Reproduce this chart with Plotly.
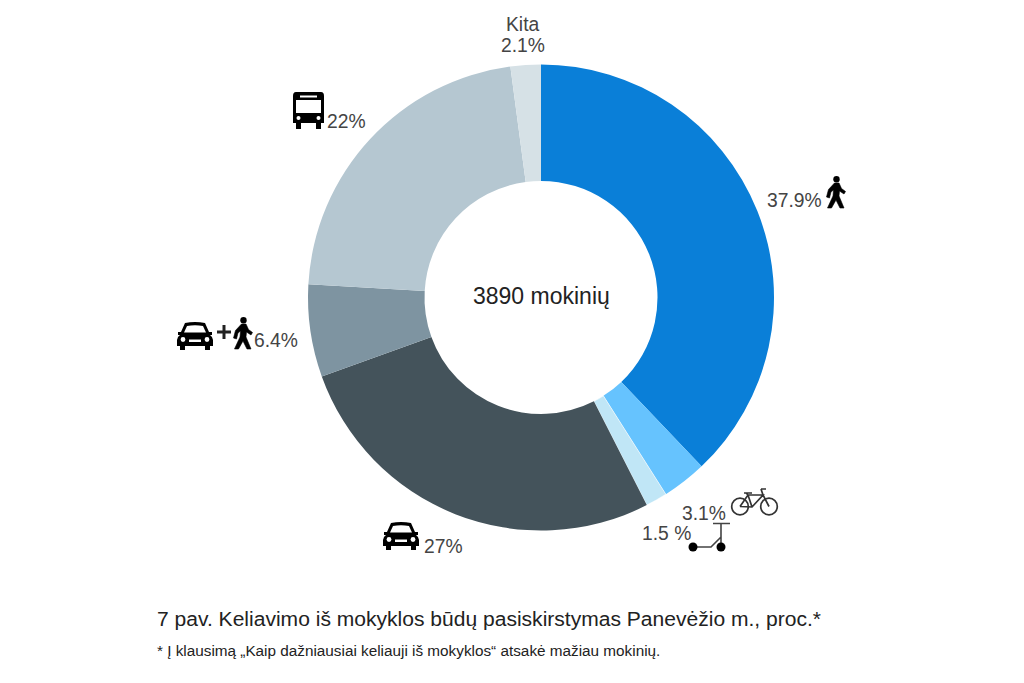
import re
import plotly.graph_objects as go

W, H = 1024, 683

categories = ["Pėsčiomis", "Dviračiu", "Paspirtuku", "Automobiliu",
              "Automobiliu + pėsčiomis", "Autobusu", "Kita"]
values = [37.9, 3.1, 1.5, 27, 6.4, 22, 2.1]
colors = ["#0A7FD8", "#66C3FE", "#C0E6F6", "#44535B", "#7E94A1", "#B5C7D1", "#D6E1E6"]
value_labels = ["37.9%", "3.1%", "1.5 %", "27%", "6.4%", "22%", "2.1%"]
other_label = "Kita"
center_text = "3890 mokinių"
caption = "7 pav. Keliavimo iš mokyklos būdų pasiskirstymas Panevėžio m., proc.*"
footnote = "* Į klausimą „Kaip dažniausiai keliauji iš mokyklos“ atsakė mažiau mokinių."

FONT = "Liberation Sans"
TEXT = "#444444"


def px(x):
    return x / W


def py(y):
    return 1 - y / H


fig = go.Figure(go.Pie(
    labels=categories, values=values, hole=0.5, sort=False, direction="clockwise",
    rotation=0, marker=dict(colors=colors, line=dict(color="rgba(255,255,255,0.7)",
                                                    width=[0, 0, 0.8, 0, 0, 0, 0])),
    textinfo="none", hoverinfo="label+percent", showlegend=False,
    domain=dict(x=[px(308), px(774)], y=[py(531), py(64)]),
))

# ---- icons (decoration, drawn in page pixels) ----
shapes = []


def path(d, ox, oy, s=1.0, fill="black", stroke=None, sw=0):
    toks = re.findall(r"[MLQCZ]|-?\d+\.?\d*", d)
    out, nums = [], []
    for t in toks:
        if t.isalpha():
            out.append(t)
        else:
            nums.append(float(t))
            if len(nums) == 2:
                out.append(f"{px(ox + nums[0] * s):.5f},{py(oy + nums[1] * s):.5f}")
                nums = []
    shapes.append(dict(type="path", xref="paper", yref="paper", path=" ".join(out),
                       fillcolor=fill if fill else "rgba(0,0,0,0)",
                       line=dict(color=stroke or "rgba(0,0,0,0)", width=sw)))


def circle(cx, cy, r, ox, oy, s=1.0, fill="black", stroke=None, sw=0):
    shapes.append(dict(type="circle", xref="paper", yref="paper",
                       x0=px(ox + (cx - r) * s), x1=px(ox + (cx + r) * s),
                       y0=py(oy + (cy + r) * s), y1=py(oy + (cy - r) * s),
                       fillcolor=fill if fill else "rgba(0,0,0,0)",
                       line=dict(color=stroke or "rgba(0,0,0,0)", width=sw)))


def walker(ox, oy, s=1.0):
    circle(10.5, 3.2, 3.2, ox, oy, s)
    path("M8.5 7 L13 7 L15.5 12.5 L19.5 15.5 L18 18 L13.5 15 L13 20 L18 32 L14 32 L10 24 L5.5 32 L1.5 32 "
         "L7 20 L7.5 14 L5 16 L3.5 22 L0.5 21 L2.5 13.5 Z", ox, oy, s, stroke="black", sw=0.6)


def car(ox, oy, s=1.0):
    path("M8 1 Q18 -1 28 1 L32 10 L35 10 L35 13 L33 13 Q36 15 36 18 L36 24 L33 24 L33 28 L28 28 L28 24 "
         "L8 24 L8 28 L3 28 L3 24 L0 24 L0 18 Q0 15 3 13 L1 13 L1 10 L4 10 Z", ox, oy, s)
    path("M10 4 Q18 2.5 26 4 L29 10.5 L7 10.5 Z", ox, oy, s, fill="white")
    circle(6, 17.5, 2.4, ox, oy, s, fill="white")
    circle(30, 17.5, 2.4, ox, oy, s, fill="white")
    path("M12 17.5 L24 17.5 L24 20 L12 20 Z", ox, oy, s, fill="white")


def bus(ox, oy, s=1.0):
    path("M4 0 L29 0 Q32 0 32 4 L32 31 L29 31 L29 37 L24 37 L24 31 L9 31 L9 37 L4 37 L4 31 L1 31 L1 4 "
         "Q1 0 4 0 Z", ox, oy, s)
    path("M4 8 L29 8 L29 21 L4 21 Z", ox, oy, s, fill="white")
    path("M8 3.5 L25 3.5 L25 5.5 L8 5.5 Z", ox, oy, s, fill="white")
    circle(6.5, 26, 2, ox, oy, s, fill="white")
    circle(26.5, 26, 2, ox, oy, s, fill="white")


def bike(ox, oy, s=1.0):
    col, sw = "#333333", 1.7
    circle(9, 18.5, 8.3, ox, oy, s, fill=None, stroke=col, sw=sw)
    circle(38, 18.5, 8.3, ox, oy, s, fill=None, stroke=col, sw=sw)
    path("M9 18.5 L17 7 L32 7 L21 19 L9 18.5 M17 7 L21 19 M30 1 L32 7 L38 18.5 M30 1 L35 1 M13 5 L21 5 M15 5 L17 7",
         ox, oy, s, fill=None, stroke=col, sw=sw)


def scooter(ox, oy, s=1.0):
    col, sw = "#444444", 1.6
    path("M5 25 L23 25 L33 15 M33 1.5 L33 25 M25 1.5 L42 1.5", ox, oy, s, fill=None, stroke=col, sw=sw)
    circle(5, 25, 4.5, ox, oy, s)
    circle(33, 25, 4.5, ox, oy, s)


walker(826, 176)
walker(233, 317)
car(177, 322)
car(383, 522)
bus(292, 92)
bike(731, 488)
scooter(688, 522)
path("M6.5 0 L9.5 0 L9.5 5.5 L15 5.5 L15 8.5 L9.5 8.5 L9.5 14 L6.5 14 L6.5 8.5 L1 8.5 L1 5.5 L6.5 5.5 Z",
     216, 325, fill="#222222")

# ---- texts ----
annotations = []


def text(t, x, y, size, anchor="left", color=TEXT):
    annotations.append(dict(text=t, x=px(x), y=py(y), xref="paper", yref="paper",
                            xanchor=anchor, yanchor="middle", showarrow=False,
                            font=dict(family=FONT, size=size, color=color)))


LBL = 19.3
text(value_labels[0], 765, 201, LBL)
text(value_labels[1], 680, 513, LBL)
text(value_labels[2], 640, 533, LBL)
text(value_labels[3], 422, 546, LBL)
text(value_labels[4], 252, 340, LBL)
text(value_labels[5], 325, 121, LBL)
text(other_label, 523, 24, LBL, "center")
text(value_labels[6], 523, 46, LBL, "center")
text(center_text, 541, 296, 23, "center", "#222222")
text(caption, 155, 618, 21.05, "left", "#222222")
text(footnote, 155, 650, 15.3, "left", "#222222")

fig.update_layout(width=W, height=H, margin=dict(l=0, r=0, t=0, b=0),
                  paper_bgcolor="white", plot_bgcolor="white",
                  shapes=shapes, annotations=annotations,
                  font=dict(family=FONT))
fig.write_html("out.html", config=dict(displayModeBar=False),
               post_script="document.body.style.margin='0';")
